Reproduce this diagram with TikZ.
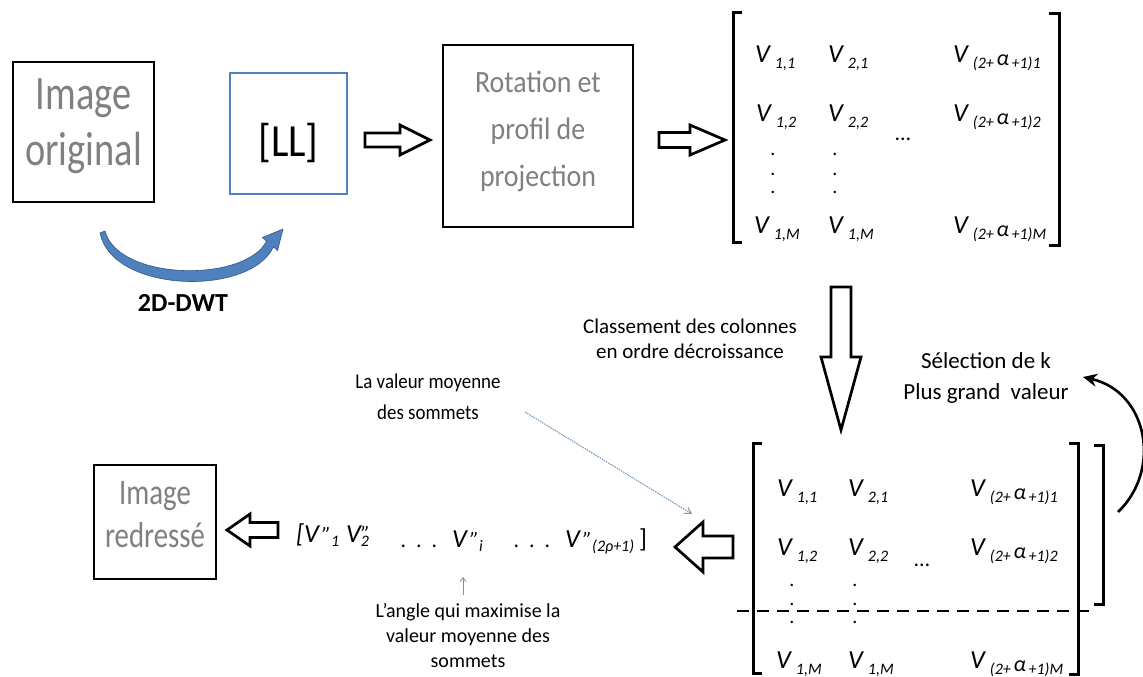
\documentclass[tikz,border=0pt]{standalone}
\usepackage{fontspec}
\setmainfont{Carlito}
\newfontfamily\narrowfont[FakeStretch=0.8]{Carlito}
\newfontfamily\semifont[FakeStretch=0.9]{Carlito}
\usetikzlibrary{arrows.meta,calc}

\definecolor{boxgray}{RGB}{128,128,128}
\definecolor{wavblue}{RGB}{79,129,189}
\definecolor{wavblueD}{RGB}{52,88,132}
\definecolor{ptrblue}{RGB}{112,146,190}

% matrix entries: V with a lowered index
\newcommand\mV[1]{{\fontsize{26}{26}\selectfont\itshape V}\hspace{5pt}\raisebox{-6pt}{\fontsize{16}{16}\selectfont\itshape #1}}
\newcommand\mVa[1]{{\fontsize{26}{26}\selectfont\itshape V}\hspace{5pt}\raisebox{-6pt}{\fontsize{16}{16}\selectfont\itshape (2+\,}\raisebox{-3pt}{\fontsize{22}{22}\selectfont\itshape α}\raisebox{-6pt}{\fontsize{16}{16}\selectfont\itshape\,+1)#1}}
% result vector pieces
\newcommand\bigV{{\fontsize{26}{26}\selectfont\itshape V}}
\newcommand\subtxt[1]{\raisebox{-4pt}{\fontsize{16}{16}\selectfont\itshape #1}}
\newcommand\dpr{{\fontsize{22}{22}\selectfont\itshape "}}

% hollow block arrow: tail point, angle, length, head length, shaft half width, head half width
\newcommand\blockarrow[6]{%
  \draw[blockarr,shift={#1},rotate=#2]
    (0,#5) -- ({#3-#4},#5) -- ({#3-#4},#6) -- (#3,0) -- ({#3-#4},-#6) -- ({#3-#4},-#5) -- (0,-#5) -- cycle;}

\begin{document}
\begin{tikzpicture}[x=1pt,y=-1pt,
  procbox/.style={draw=black,line width=1.6pt,inner sep=0pt},
  graytxt/.style={text=boxgray,align=center,inner sep=0pt},
  lbl/.style={font=\fontsize{20}{25}\selectfont,align=center,inner sep=0pt},
  entry/.style={anchor=base west,inner sep=0pt},
  vdot/.style={anchor=base,inner sep=0pt,font=\fontsize{20}{20}\selectfont},
  hdots/.style={anchor=base,inner sep=0pt,font=\fontsize{22}{22}\selectfont},
  bracket/.style={line width=3pt},
  blockarr/.style={draw=black,line width=2.7pt,fill=white,line join=miter,miter limit=4},
]
\useasboundingbox[fill=white] (0,0) rectangle (1143,677);

% ---------- top row ----------
\node[procbox,minimum width=141pt,minimum height=140pt] (orig) at (83.5,132) {};
\node[graytxt,font=\narrowfont\fontsize{48}{56}\selectfont] (origtxt) at (83.5,126) {Image\\original};

\node[draw=wavblue,line width=1.2pt,minimum width=117pt,minimum height=121pt,inner sep=0pt] (ll) at (288.5,133.5) {};
\node[inner sep=0pt,font=\semifont\fontsize{46}{46}\selectfont] (lltxt) at (288.5,143) {[LL]};

\node[procbox,minimum width=190pt,minimum height=182pt] (rot) at (538,136) {};
\node[graytxt,font=\semifont\fontsize{31}{47}\selectfont] (rottxt) at (538,131) {Rotation et\\profil de\\projection};

% 2D-DWT curved arrow
\fill[wavblue,draw=wavblueD,line width=0.6pt]
  (100,233) .. controls (112,293) and (250,297) .. (273.4,246.9)
  -- (277.6,250.5) -- (283,229) -- (262.4,237.5) -- (266.6,241.1)
  .. controls (245,283) and (118,281) .. (105,231) -- cycle;
\node[inner sep=0pt,font=\bfseries\fontsize{26}{26}\selectfont] (dwt) at (183,303) {2D-DWT};

\blockarrow{(365,140)}{0}{65}{30}{7}{15}
\blockarrow{(659,140)}{0}{66}{35}{7.5}{15}

% ---------- projection matrix ----------
\draw[bracket] (742,13) -- (733,13) -- (733,242) -- (742,242);
\draw[bracket] (1049,14) -- (1059,14) -- (1059,245) -- (1049,245);
\node[entry] (a11) at (755,63)  {\mV{1,1}};
\node[entry] (a21) at (828,63)  {\mV{2,1}};
\node[entry] (a31) at (953,63)  {\mVa{1}};
\node[entry] (a12) at (756,121) {\mV{1,2}};
\node[entry] (a22) at (828,121) {\mV{2,2}};
\node[entry] (a32) at (953,121) {\mVa{2}};
\node[entry] (a1m) at (754,233) {\mV{1,M}};
\node[entry] (a2m) at (828,233) {\mV{1,M}};
\node[entry] (a3m) at (953,233) {\mVa{M}};
\node[hdots] (adots) at (903,140) {\dots};
\foreach \yy [count=\k] in {155,175,193}{
  \node[vdot] (ad1\k) at (773,\yy) {.};
  \node[vdot] (ad2\k) at (835,\yy) {.};
}

% sorting arrow
\blockarrow{(841,287)}{-90}{143}{73}{10}{20}
\node[lbl,font=\fontsize{21}{25}\selectfont] (classe) at (690,339) {Classement des colonnes\\en ordre décroissance};

% ---------- sorted matrix ----------
\draw[bracket] (762,443) -- (753,443) -- (753,673) -- (762,673);
\draw[bracket] (1069,443) -- (1078,443) -- (1078,674) -- (1069,674);
\draw[bracket] (1094,445) -- (1103,445) -- (1103,604) -- (1094,604);
\draw[line width=1.2pt,dash pattern=on 12pt off 8pt] (737,611) -- (1091,611);
\node[entry] (b11) at (777,496) {\mV{1,1}};
\node[entry] (b21) at (848,496) {\mV{2,1}};
\node[entry] (b31) at (970,496) {\mVa{1}};
\node[entry] (b12) at (777,555) {\mV{1,2}};
\node[entry] (b22) at (848,555) {\mV{2,2}};
\node[entry] (b32) at (970,555) {\mVa{2}};
\node[entry] (b1m) at (776,668) {\mV{1,M}};
\node[entry] (b2m) at (848,668) {\mV{1,M}};
\node[entry] (b3m) at (970,668) {\mVa{M}};
\node[hdots] (bdots) at (922,566) {\dots};
\foreach \yy [count=\k] in {586,605,623}{
  \node[vdot] (bd1\k) at (792,\yy) {.};
  \node[vdot] (bd2\k) at (855,\yy) {.};
}

% selection of the k largest values
\node[lbl,font=\fontsize{23}{31}\selectfont] (sel) at (986,378) {Sélection de k\\Plus grand\ \ valeur};
\coordinate (selfrom) at (1118,512);
\coordinate (selto) at (1083,377);
\draw[line width=2.6pt,-{Stealth[length=14pt,width=13pt]}] (selfrom) .. controls (1162,470) and (1148,392) .. (selto);

% ---------- result vector ----------
\blockarrow{(733,547)}{180}{58}{28}{11}{25}
\node[entry] (v1) at (296,542) {{\fontsize{26}{26}\selectfont\itshape [}\bigV\hspace{3pt}\dpr\subtxt{1}\hspace{7pt}\bigV\rlap{\subtxt{2}}\raisebox{1pt}{\dpr}};
\node[hdots] (vdots1) at (419,547) {.\ \ .\ \ .};
\node[entry] (vi) at (452,547) {\bigV\hspace{3pt}\dpr\subtxt{i}};
\node[hdots] (vdots2) at (532,547) {.\ \ .\ \ .};
\node[entry] (vn) at (565,547) {\bigV\hspace{3pt}\dpr\subtxt{(2ρ+1)}\hspace{5pt}{\fontsize{26}{26}\selectfont ]}};

\node[lbl,font=\semifont\fontsize{21}{31}\selectfont] (moy) at (428,397) {La valeur moyenne\\des sommets};
\coordinate (moyfrom) at (525,412);
\coordinate (moyto) at (692,514);
\draw[ptrblue,line width=1pt,dash pattern=on 1.5pt off 1pt,-{Straight Barb[length=6pt,width=7pt]}] (moyfrom) -- (moyto);

\node[lbl] (angle) at (468,636) {L’angle qui maximise la\\valeur moyenne des\\sommets};
\coordinate (anglefrom) at (463,595);
\coordinate (angleto) at (463,577);
\draw[ptrblue,line width=0.8pt,-{Straight Barb[length=4pt,width=6pt]}] (anglefrom) -- (angleto);

\blockarrow{(278,530)}{180}{51}{23}{7.5}{16}
\node[procbox,minimum width=122pt,minimum height=114pt] (redr) at (155,522) {};
\node[graytxt,font=\narrowfont\fontsize{36}{43}\selectfont] (redrtxt) at (155,515) {Image\\redressé};
\end{tikzpicture}
\end{document}
